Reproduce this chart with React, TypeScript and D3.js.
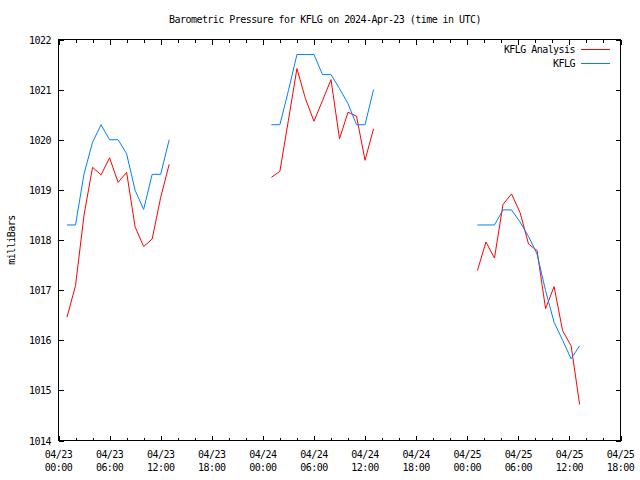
import React from "react";
import * as d3 from "d3";

// hours since 2024-04-23 00:00 UTC
const hours = [
  1, 2, 3, 4, 5, 6, 7, 8, 9, 10, 11, 12, 13,
  25, 26, 27, 28, 29, 30, 31, 32, 33, 34, 35, 36, 37,
  49.2, 50.2, 51.2, 52.2, 53.2, 54.2, 55.2, 56.2, 57.2, 58.2, 59.2, 60.2, 61.2,
];
const analysis = [
  1016.46, 1017.09, 1018.5, 1019.45, 1019.3, 1019.64, 1019.15, 1019.35, 1018.26, 1017.87, 1018.02, 1018.85, 1019.51,
  1019.25, 1019.37, 1020.39, 1021.42, 1020.82, 1020.37, 1020.78, 1021.2, 1020.02, 1020.55, 1020.47, 1019.59, 1020.22,
  1017.39, 1017.96, 1017.64, 1018.71, 1018.92, 1018.55, 1017.92, 1017.79, 1016.63, 1017.07, 1016.19, 1015.89, 1014.72,
];
const observed = [
  1018.3, 1018.3, 1019.32, 1019.95, 1020.3, 1020.0, 1020.0, 1019.72, 1018.99, 1018.61, 1019.31, 1019.31, 1020.0,
  1020.3, 1020.3, 1020.98, 1021.7, 1021.7, 1021.7, 1021.3, 1021.3, 1021.02, 1020.72, 1020.3, 1020.3, 1021.0,
  1018.3, 1018.3, 1018.3, 1018.6, 1018.6, 1018.36, 1018.07, 1017.72, 1016.99, 1016.36, 1016.0, 1015.63, 1015.89,
];
const yTicks = [1014, 1015, 1016, 1017, 1018, 1019, 1020, 1021, 1022];
const seriesNames = ["KFLG Analysis", "KFLG"];
const seriesColors = ["#ff0000", "#0080ff"];
const title = "Barometric Pressure for KFLG on 2024-Apr-23 (time in UTC)";
const yLabel = "milliBars";

const W = 640, H = 480;
const L = 58.5, R = 620.5, T = 39.5, B = 440.5;
const start = new Date(Date.UTC(2024, 3, 23, 0));
const end = new Date(Date.UTC(2024, 3, 25, 18));
const toDate = (h: number) => new Date(start.getTime() + h * 3600e3);

const FONT = "'DejaVu Sans Mono', monospace";
const fontProps = { fontFamily: FONT, fontSize: 10, letterSpacing: -0.55, fill: "#000" };

export default function App() {
  const x = d3.scaleUtc().domain([start, end]).range([L, R]);
  const y = d3.scaleLinear().domain([1014, 1022]).range([B, T]);

  const majors = d3.utcHour.every(6)!.range(start, new Date(end.getTime() + 1));
  const minors = d3.utcHour.every(2)!.range(start, new Date(end.getTime() + 1));
  const fmtD = d3.utcFormat("%m/%d");
  const fmtT = d3.utcFormat("%H:%M");

  const segs = (vals: number[]) => {
    const out: [Date, number][][] = [];
    let cur: [Date, number][] = [];
    hours.forEach((h, i) => {
      if (i > 0 && h - hours[i - 1] > 3) { out.push(cur); cur = []; }
      cur.push([toDate(h), vals[i]]);
    });
    out.push(cur);
    return out;
  };
  const line = d3.line<[Date, number]>().x(d => x(d[0])).y(d => y(d[1]));

  return (
    <svg width={W} height={H} style={{ display: "block", position: "absolute", left: 0, top: 0, background: "#fff" }}>
      <rect x={0} y={0} width={W} height={H} fill="#fff" />
      <text x={325} y={23} textAnchor="middle" {...fontProps}>{title}</text>
      <text transform={`translate(15,240) rotate(-90)`} textAnchor="middle" {...fontProps}>{yLabel}</text>
      <g shapeRendering="crispEdges" stroke="#000" strokeWidth={1}>
        {minors.map((d, i) => {
          const xx = Math.round(x(d)) + 0.5;
          const len = d.getUTCHours() % 6 === 0 ? 5 : 3;
          return (
            <g key={"m" + i}>
              <line x1={xx} x2={xx} y1={B} y2={B - len} />
              <line x1={xx} x2={xx} y1={T} y2={T + len} />
            </g>
          );
        })}
        {yTicks.map((v, i) => {
          const yy = Math.round(y(v)) + 0.5;
          return (
            <g key={"y" + i}>
              <line x1={L} x2={L + 5} y1={yy} y2={yy} />
              <line x1={R} x2={R - 5} y1={yy} y2={yy} />
            </g>
          );
        })}
        <rect x={L} y={T} width={R - L} height={B - T} fill="none" />
      </g>
      {yTicks.map((v, i) => (
        <text key={"yl" + i} x={51} y={y(v) + 4} textAnchor="end" {...fontProps}>{v}</text>
      ))}
      {majors.map((d, i) => (
        <g key={"xl" + i}>
          <text x={x(d)} y={458} textAnchor="middle" {...fontProps}>{fmtD(d)}</text>
          <text x={x(d)} y={471} textAnchor="middle" {...fontProps}>{fmtT(d)}</text>
        </g>
      ))}
      {[analysis, observed].map((vals, si) =>
        segs(vals).map((s, k) => (
          <path key={si + "-" + k} d={line(s) ?? ""} fill="none" stroke={seriesColors[si]} strokeWidth={1} />
        ))
      )}
      {seriesNames.map((n, i) => (
        <g key={"lg" + i}>
          <text x={575} y={53 + i * 13.5} textAnchor="end" {...fontProps}>{n}</text>
          <line x1={581} x2={610} y1={49.5 + i * 13.5} y2={49.5 + i * 13.5} stroke={seriesColors[i]} strokeWidth={1} shapeRendering="crispEdges" />
        </g>
      ))}
    </svg>
  );
}
